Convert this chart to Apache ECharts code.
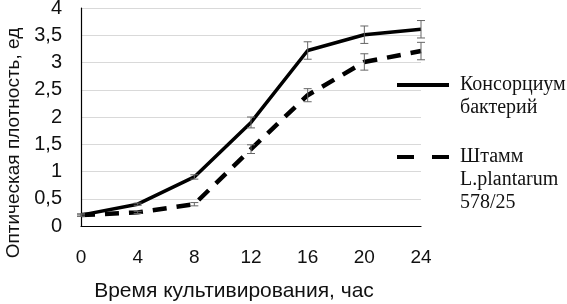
<!DOCTYPE html>
<html>
<head>
<meta charset="utf-8">
<script src="https://cdn.jsdelivr.net/npm/echarts@6/dist/echarts.min.js"></script>
<style>
  html, body { margin: 0; padding: 0; background: #fff; }
  #chart { width: 567px; height: 304px; }
</style>
</head>
<body>
<div id="chart"></div>
<script>
// время, час
var hours = [0, 4, 8, 12, 16, 20, 24]
// оптическая плотность
var consortium = [0.2, 0.4, 0.9, 1.9, 3.22, 3.51, 3.61]
var consortiumErr = [0.02, 0.02, 0.04, 0.1, 0.16, 0.16, 0.16]
var strain = [0.2, 0.25, 0.4, 1.41, 2.4, 3.01, 3.21]
var strainErr = [0.02, 0.02, 0.03, 0.08, 0.12, 0.15, 0.16]
var seriaName = ['Консорциум\nбактерий', 'Штамм\nL.plantarum\n578/25']

function pairs(ys) {
  let out = []
  for (let i in hours) out.push([hours[i], ys[i]])
  return out
}
function errData(ys, es) {
  let out = []
  for (let i in hours) out.push([hours[i], ys[i] - es[i], ys[i] + es[i]])
  return out
}
function errorBars(params, api) {
  let lo = api.coord([api.value(0), api.value(1)])
  let hi = api.coord([api.value(0), api.value(2)])
  let w = 4
  let st = { stroke: '#666', lineWidth: 1 }
  return {
    type: 'group',
    children: [
      { type: 'line', shape: { x1: lo[0], y1: lo[1], x2: hi[0], y2: hi[1] }, style: st },
      { type: 'line', shape: { x1: lo[0] - w, y1: lo[1], x2: lo[0] + w, y2: lo[1] }, style: st },
      { type: 'line', shape: { x1: hi[0] - w, y1: hi[1], x2: hi[0] + w, y2: hi[1] }, style: st }
    ]
  }
}

var serif = 'Liberation Serif, Times New Roman, serif'
var sans = 'Liberation Sans, Arial, sans-serif'

// icon sits on the first text line: pad blank lines above the name
function legendBox(name, top, dash) {
  let blanks = name.split('\n').length - 1
  return {
    orient: 'vertical',
    left: 395,
    top: top,
    padding: 0,
    itemWidth: 52,
    itemHeight: 14,
    itemStyle: { opacity: 0 },
    lineStyle: { width: 4, type: dash, color: '#000' },
    data: [name],
    selectedMode: false,
    formatter: function (n) { return ' \n'.repeat(blanks) + n },
    textStyle: {
      fontFamily: serif,
      fontSize: 20,
      color: '#111',
      lineHeight: 23,
      padding: [0, 0, 0, 6]
    }
  }
}

var chart = echarts.init(document.getElementById('chart'))
var option = {
  animation: false,
  grid: { left: 81, right: 146, top: 8, bottom: 78, outerBoundsMode: 'none', containLabel: false },
  legend: [
    legendBox(seriaName[0], 50.5, 'solid'),
    legendBox(seriaName[1], 99.5, [17, 18])
  ],
  xAxis: {
    type: 'value',
    min: 0,
    max: 24,
    interval: 4,
    name: 'Время культивирования, час',
    nameLocation: 'middle',
    nameGap: 55,
    nameTextStyle: { fontFamily: sans, fontSize: 21, color: '#111', padding: [0, 34, 0, 0] },
    axisLine: { lineStyle: { color: '#000', width: 1.2 } },
    axisTick: { show: false },
    splitLine: { show: false },
    axisLabel: { fontFamily: sans, fontSize: 19, color: '#111', margin: 22 }
  },
  yAxis: {
    type: 'value',
    min: 0,
    max: 4,
    interval: 0.5,
    name: 'Оптическая плотность, ед',
    nameLocation: 'middle',
    nameGap: 58,
    nameTextStyle: { fontFamily: sans, fontSize: 19, color: '#111', padding: [0, 52, 0, 0] },
    axisLine: { show: true, lineStyle: { color: '#000', width: 1.2 } },
    axisTick: { show: false },
    splitLine: { lineStyle: { color: '#d9d9d9', width: 1.2 } },
    axisLabel: {
      fontFamily: sans,
      fontSize: 20,
      color: '#111',
      margin: 19,
      formatter: function (v) { return String(v).replace('.', ',') }
    }
  },
  series: [
    {
      name: seriaName[0],
      type: 'line',
      symbol: 'none',
      data: pairs(consortium),
      lineStyle: { color: '#000', width: 3.5 },
      itemStyle: { color: '#000' },
      z: 3
    },
    {
      name: seriaName[1],
      type: 'line',
      symbol: 'none',
      data: pairs(strain),
      lineStyle: { color: '#000', width: 4.5, type: [14, 10] },
      itemStyle: { color: '#000' },
      z: 3
    },
    {
      type: 'custom',
      renderItem: errorBars,
      data: errData(consortium, consortiumErr),
      z: 4
    },
    {
      type: 'custom',
      renderItem: errorBars,
      data: errData(strain, strainErr),
      z: 4
    }
  ]
}
chart.setOption(option)
</script>
</body>
</html>
